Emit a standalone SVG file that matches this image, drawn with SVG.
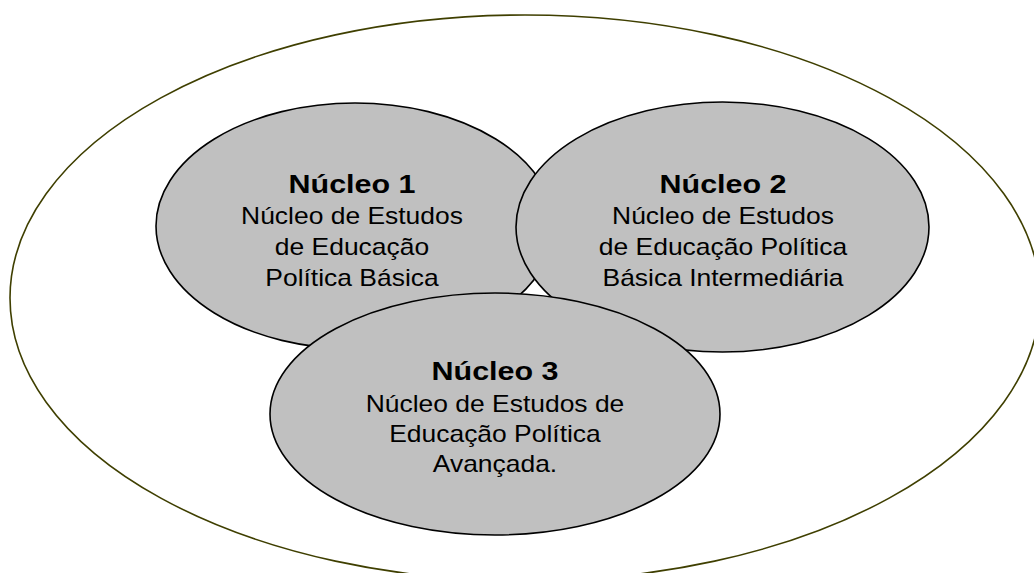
<svg xmlns="http://www.w3.org/2000/svg" width="1034" height="573" viewBox="0 0 1034 573">
<style>
.outer{fill:#ffffff;stroke:#3f3f00;stroke-width:1.6}
.node{fill:#c0c0c0;stroke:#000000;stroke-width:1.6}
.t{font-family:"Liberation Sans",Arial,sans-serif;fill:#000000;text-anchor:middle}
.h{font-size:26.5px;font-weight:bold}
.b{font-size:23px}
</style>
<rect width="1034" height="573" fill="#ffffff"/>
<ellipse id="outer" class="outer" cx="525" cy="298" rx="515" ry="283"/>
<g id="connectors"></g>
<g id="nucleo1">
<ellipse class="node" cx="355" cy="226" rx="199" ry="123"/>
<g transform="translate(352,0) scale(1.15,1)">
<text class="t h" x="0" y="193">Núcleo 1</text>
<text class="t b" x="0" y="224">Núcleo de Estudos</text>
<text class="t b" x="0" y="255">de Educação</text>
<text class="t b" x="0" y="286">Política Básica</text>
</g>
</g>
<g id="nucleo2">
<ellipse class="node" cx="722.5" cy="227" rx="206.5" ry="125"/>
<g transform="translate(723,0) scale(1.15,1)">
<text class="t h" x="0" y="193">Núcleo 2</text>
<text class="t b" x="0" y="224">Núcleo de Estudos</text>
<text class="t b" x="0" y="255">de Educação Política</text>
<text class="t b" x="0" y="286">Básica Intermediária</text>
</g>
</g>
<g id="nucleo3">
<ellipse class="node" cx="495" cy="414" rx="225" ry="121"/>
<g transform="translate(495,0) scale(1.15,1)">
<text class="t h" x="0" y="380">Núcleo 3</text>
<text class="t b" x="0" y="412">Núcleo de Estudos de</text>
<text class="t b" x="0" y="442">Educação Política</text>
<text class="t b" x="0" y="472">Avançada.</text>
</g>
</g>
</svg>
